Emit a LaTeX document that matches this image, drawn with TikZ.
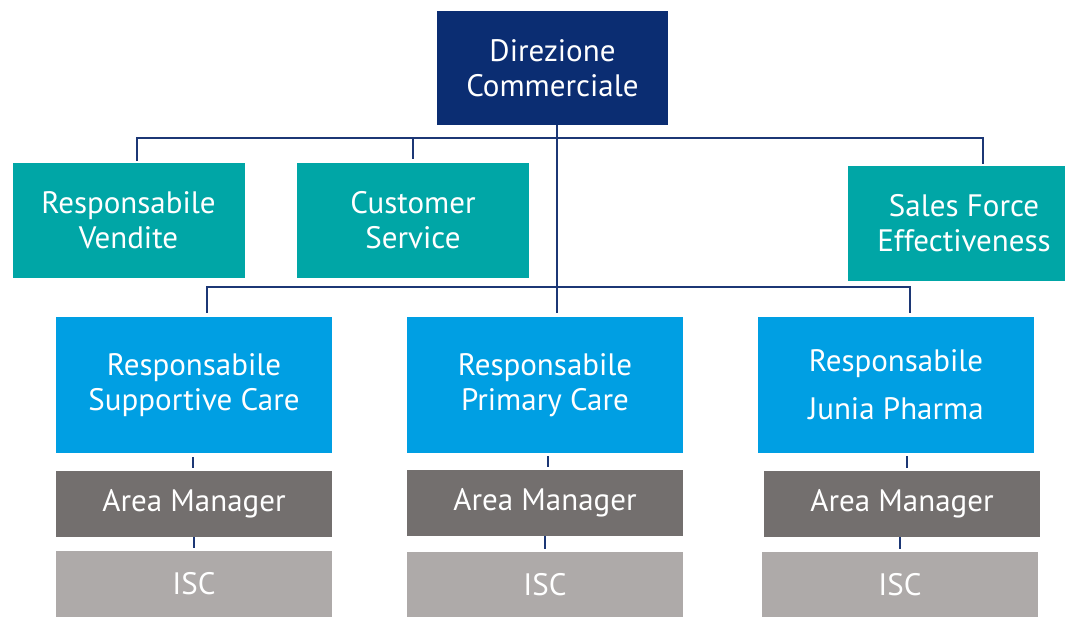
\documentclass[tikz,border=0pt]{standalone}
\usepackage{fontspec}
\setmainfont{PT Sans}
\usetikzlibrary{positioning}
\definecolor{navy}{HTML}{0B2D72}
\definecolor{linkblue}{HTML}{1C3775}
\definecolor{teal}{HTML}{00A6A6}
\definecolor{sky}{HTML}{009FE3}
\definecolor{darkgrey}{HTML}{736F6E}
\definecolor{lightgrey}{HTML}{AEAAA9}

\begin{document}
\begin{tikzpicture}[x=1pt,y=1pt,
    box/.style={inner sep=0pt, text=white, align=center, font=\fontsize{31}{35}\selectfont},
    head/.style={box, fill=navy, minimum width=231pt, minimum height=114pt},
    staff/.style={box, fill=teal, minimum width=232pt, minimum height=115pt},
    resp/.style={box, fill=sky, minimum width=276pt, minimum height=136pt},
    area/.style={box, fill=darkgrey, minimum width=276pt, minimum height=66pt},
    isc/.style={box, fill=lightgrey, minimum width=276pt, minimum height=66pt},
    link/.style={draw=linkblue, line width=2.6pt}]
  \clip (0,0) rectangle (1065,616);

  % direzione
  \node[head] (dir) at (552.5,548) {Direzione\\Commerciale};

  % staff
  \node[staff] (vend) at (128.5,395.5) {Responsabile\\Vendite};
  \node[staff] (cs) at (413,395.5) {Customer\\Service};
  \node[staff] (sfe) at (964,392.5) {Sales Force\\Effectiveness};

  % responsabili
  \node[resp] (sc) at (194,231) {Responsabile\\Supportive Care};
  \node[resp] (pc) at (545,231) {Responsabile\\Primary Care};
  \node[resp] (jp) at (896,231) {Responsabile\\[13pt]Junia Pharma};

  % area manager
  \node[area] (am1) at (194,112) {Area Manager};
  \node[area] (am2) at (545,113) {Area Manager};
  \node[area] (am3) at (902,112) {Area Manager};

  % isc
  \node[isc] (isc1) at (194,32) {ISC};
  \node[isc] (isc2) at (545,31) {ISC};
  \node[isc] (isc3) at (900,31) {ISC};

  \coordinate (b1) at (557,478);
  \coordinate (b2) at (557,329);

  \draw[link, shorten >=4pt] (dir.south -| b1) -- (pc.north -| b1);
  \draw[link, shorten <=2pt, shorten >=2pt] ([xshift=8.5pt]vend.north) |- (b1) -| ([xshift=19pt]sfe.north);
  \draw[link, shorten <=4pt] (cs.north) -- (cs.north |- b1);
  \draw[link, shorten <=4pt, shorten >=4pt] ([xshift=13pt]sc.north) |- (b2) -| ([xshift=14pt]jp.north);

  \draw[link, shorten <=4pt, shorten >=3pt] ([xshift=-1pt]sc.south) -- ([xshift=-1pt]sc.south |- am1.north);
  \draw[link, shorten <=3pt, shorten >=3pt] ([xshift=3pt]pc.south) -- ([xshift=3pt]pc.south |- am2.north);
  \draw[link, shorten <=3pt, shorten >=3pt] ([xshift=11pt]jp.south) -- ([xshift=11pt]jp.south |- am3.north);

  \draw[link, shorten >=3pt] (am1.south) -- (am1.south |- isc1.north);
  \draw[link, shorten >=3pt] (am2.south) -- (am2.south |- isc2.north);
  \draw[link, shorten >=3pt] ([xshift=-2pt]am3.south) -- ([xshift=-2pt]am3.south |- isc3.north);
\end{tikzpicture}
\end{document}
